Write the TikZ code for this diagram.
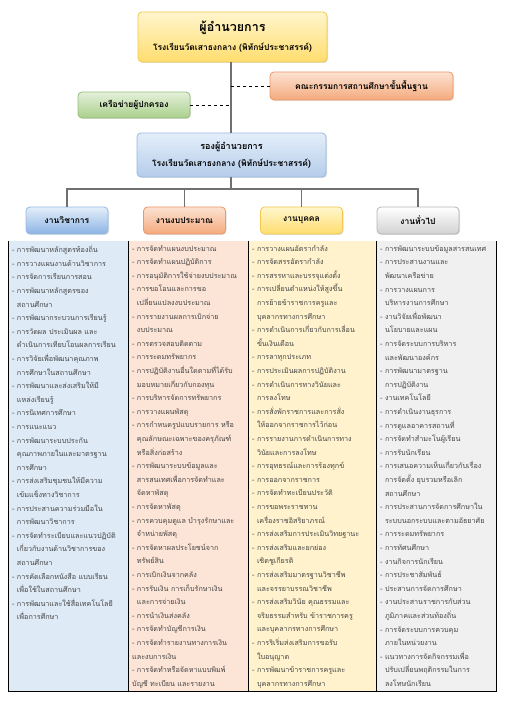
\documentclass[tikz,border=0pt]{standalone}
\usepackage{fontspec}
\newfontfamily\thaifont[Script=Thai]{Loma}
\usetikzlibrary{positioning,shadows}
\definecolor{lineg}{RGB}{112,112,112}
\definecolor{txtg}{RGB}{70,70,70}
\definecolor{yelT}{RGB}{255,246,205}
\definecolor{yelB}{RGB}{255,221,110}
\definecolor{yelD}{RGB}{242,200,80}
\definecolor{orT}{RGB}{252,226,210}
\definecolor{orB}{RGB}{244,170,125}
\definecolor{orD}{RGB}{236,150,105}
\definecolor{grT}{RGB}{228,240,218}
\definecolor{grB}{RGB}{170,208,140}
\definecolor{grD}{RGB}{150,190,120}
\definecolor{blT}{RGB}{228,238,250}
\definecolor{blB}{RGB}{180,205,234}
\definecolor{blD}{RGB}{150,185,225}
\definecolor{blhB}{RGB}{140,180,228}
\definecolor{gyT}{RGB}{255,255,255}
\definecolor{gyB}{RGB}{210,210,210}
\definecolor{gyD}{RGB}{180,180,180}
\definecolor{fillA}{RGB}{222,234,246}
\definecolor{fillB}{RGB}{252,228,214}
\definecolor{fillC}{RGB}{255,242,204}
\definecolor{fillD}{RGB}{240,240,240}

\newcommand{\ct}{\phantom{-\ }}

\begin{document}
\begin{tikzpicture}[x=1pt,y=-1pt,
  font=\thaifont,
  orgbox/.style={rounded corners=4pt,thick,align=center,inner sep=2pt,
    drop shadow={shadow xshift=1pt,shadow yshift=-1pt,opacity=0.25}},
  dirb/.style={orgbox,draw=yelD,top color=yelT,bottom color=yelB,minimum width=189pt,minimum height=50pt},
  depb/.style={orgbox,draw=blD,top color=blT,bottom color=blB,minimum width=189pt,minimum height=44pt},
  comb/.style={orgbox,draw=orD,top color=orT,bottom color=orB,minimum width=183pt,minimum height=28pt,font=\thaifont\bfseries\fontsize{8.5}{10}\selectfont},
  netb/.style={orgbox,draw=grD,top color=grT,bottom color=grB,minimum width=112pt,minimum height=26pt,font=\thaifont\bfseries\fontsize{8.5}{10}\selectfont},
  headb/.style={orgbox,minimum width=82pt,minimum height=27pt,font=\thaifont\bfseries\fontsize{8.5}{10}\selectfont},
  listt/.style={anchor=north west,align=left,text width=116pt,inner sep=0pt,text=txtg,
    font=\thaifont\fontsize{7.2}{13.6}\selectfont},
  link/.style={draw=lineg,line width=1.1pt},
  dashl/.style={draw=black,dashed,thin},
  tbl/.style={draw=black,line width=1pt},
  ]
  \useasboundingbox (0,0) rectangle (504,708);

  % management
  \node[dirb] (dir) at (232.5,37) {{\bfseries\fontsize{12.5}{14}\selectfont ผู้อำนวยการ}\\[7pt]
    {\bfseries\fontsize{8.5}{10}\selectfont โรงเรียนวัดเสาธงกลาง (พิทักษ์ประชาสรรค์)}};
  \node[comb] (com) at (361.5,86) {คณะกรรมการสถานศึกษาขั้นพื้นฐาน};
  \node[netb] (net) at (134,105) {เครือข่ายผู้ปกครอง};
  \node[depb] (dep) at (231.5,155) {{\bfseries\fontsize{9}{10}\selectfont รองผู้อำนวยการ}\\[5pt]
    {\bfseries\fontsize{8.5}{10}\selectfont โรงเรียนวัดเสาธงกลาง (พิทักษ์ประชาสรรค์)}};

  \coordinate (tcom) at (231,86);
  \coordinate (tnet) at (231,105);
  \coordinate (bus) at (231,189);
  \draw[link] (dir.south -| tcom) -- (dep.north -| tcom);
  \draw[dashl] (tcom) -- (com.west);
  \draw[dashl] (net.east) -- (tnet);

  % departments
  \node[headb,draw=blD,top color=blT,bottom color=blhB] (acad) at (67,220.5) {งานวิชาการ};
  \node[headb,draw=orD,top color=orT,bottom color=orB] (budg) at (184.5,220.5) {งานงบประมาณ};
  \node[headb,draw=yelD,top color=yelT,bottom color=yelB] (pers) at (301.5,220.5) {งานบุคคล};
  \node[headb,draw=gyD,top color=gyT,bottom color=gyB] (genl) at (418,220.5) {งานทั่วไป};

  \draw[link] (dep.south -| bus) -- (bus);
  \draw[link] (acad.north) |- (bus) -| (genl.north);
  \draw[link] (budg.north) -- (budg.north |- bus);
  \draw[link] (pers.north) -- (pers.north |- bus);

  % task lists
  \fill[fillA] (8,241) rectangle (128,691);
  \fill[fillB] (128,241) rectangle (248,691);
  \fill[fillC] (248,241) rectangle (376,691);
  \fill[fillD] (376,241) rectangle (496,691);

  \node[listt] (lacad) at (12,245) {- การพัฒนาหลักสูตรท้องถิ่น\\
- การวางแผนงานด้านวิชาการ\\
- การจัดการเรียนการสอน\\
- การพัฒนาหลักสูตรของ\\
\ct สถานศึกษา\\
- การพัฒนากระบวนการเรียนรู้\\
- การวัดผล ประเมินผล และ\\
\ct ดำเนินการเทียบโอนผลการเรียน\\
- การวิจัยเพื่อพัฒนาคุณภาพ\\
\ct การศึกษาในสถานศึกษา\\
- การพัฒนาและส่งเสริมให้มี\\
\ct แหล่งเรียนรู้\\
- การนิเทศการศึกษา\\
- การแนะแนว\\
- การพัฒนาระบบประกัน\\
\ct คุณภาพภายในและมาตรฐาน\\
\ct การศึกษา\\
- การส่งเสริมชุมชนให้มีความ\\
\ct เข้มแข็งทางวิชาการ\\
- การประสานความร่วมมือใน\\
\ct การพัฒนาวิชาการ\\
- การจัดทำระเบียบและแนวปฏิบัติ\\
\ct เกี่ยวกับงานด้านวิชาการของ\\
\ct สถานศึกษา\\
- การคัดเลือกหนังสือ แบบเรียน\\
\ct เพื่อใช้ในสถานศึกษา\\
- การพัฒนาและใช้สื่อเทคโนโลยี\\
\ct เพื่อการศึกษา};

  \node[listt] (lbudg) at (132,245) {- การจัดทำแผนงบประมาณ\\
- การจัดทำแผนปฏิบัติการ\\
- การอนุมัติการใช้จ่ายงบประมาณ\\
- การขอโอนและการขอ\\
\ct เปลี่ยนแปลงงบประมาณ\\
- การรายงานผลการเบิกจ่าย\\
\ct งบประมาณ\\
- การตรวจสอบติดตาม\\
- การระดมทรัพยากร\\
- การปฏิบัติงานอื่นใดตามที่ได้รับ\\
\ct มอบหมายเกี่ยวกับกองทุน\\
- การบริหารจัดการทรัพยากร\\
- การวางแผนพัสดุ\\
- การกำหนดรูปแบบรายการ หรือ\\
\ct คุณลักษณะเฉพาะของครุภัณฑ์\\
\ct หรือสิ่งก่อสร้าง\\
- การพัฒนาระบบข้อมูลและ\\
\ct สารสนเทศเพื่อการจัดทำและ\\
\ct จัดหาพัสดุ\\
- การจัดหาพัสดุ\\
- การควบคุมดูแล บำรุงรักษาและ\\
\ct จำหน่ายพัสดุ\\
- การจัดหาผลประโยชน์จาก\\
\ct ทรัพย์สิน\\
- การเบิกเงินจากคลัง\\
- การรับเงิน การเก็บรักษาเงิน\\
\ct และการจ่ายเงิน\\
- การนำเงินส่งคลัง\\
- การจัดทำบัญชีการเงิน\\
- การจัดทำรายงานทางการเงิน\\
และงบการเงิน\\
- การจัดทำหรือจัดหาแบบพิมพ์\\
บัญชี ทะเบียน และรายงาน};

  \node[listt] (lpers) at (252,245) {- การวางแผนอัตรากำลัง\\
- การจัดสรรอัตรากำลัง\\
- การสรรหาและบรรจุแต่งตั้ง\\
- การเปลี่ยนตำแหน่งให้สูงขึ้น\\
\ct การย้ายข้าราชการครูและ\\
\ct บุคลากรทางการศึกษา\\
- การดำเนินการเกี่ยวกับการเลื่อน\\
\ct ขั้นเงินเดือน\\
- การลาทุกประเภท\\
- การประเมินผลการปฏิบัติงาน\\
- การดำเนินการทางวินัยและ\\
\ct การลงโทษ\\
- การสั่งพักราชการและการสั่ง\\
\ct ให้ออกจากราชการไว้ก่อน\\
- การรายงานการดำเนินการทาง\\
\ct วินัยและการลงโทษ\\
- การอุทธรณ์และการร้องทุกข์\\
- การออกจากราชการ\\
- การจัดทำทะเบียนประวัติ\\
- การขอพระราชทาน\\
\ct เครื่องราชอิสริยาภรณ์\\
- การส่งเสริมการประเมินวิทยฐานะ\\
- การส่งเสริมและยกย่อง\\
\ct เชิดชูเกียรติ\\
- การส่งเสริมมาตรฐานวิชาชีพ\\
\ct และจรรยาบรรณวิชาชีพ\\
- การส่งเสริมวินัย คุณธรรมและ\\
\ct จริยธรรมสำหรับ ข้าราชการครู\\
\ct และบุคลากรทางการศึกษา\\
- การริเริ่มส่งเสริมการขอรับ\\
\ct ใบอนุญาต\\
- การพัฒนาข้าราชการครูและ\\
\ct บุคลากรทางการศึกษา};

  \node[listt] (lgenl) at (380,245) {- การพัฒนาระบบข้อมูลสารสนเทศ\\
- การประสานงานและ\\
\ct พัฒนาเครือข่าย\\
- การวางแผนการ\\
\ct บริหารงานการศึกษา\\
- งานวิจัยเพื่อพัฒนา\\
\ct นโยบายและแผน\\
- การจัดระบบการบริหาร\\
\ct และพัฒนาองค์กร\\
- การพัฒนามาตรฐาน\\
\ct การปฏิบัติงาน\\
- งานเทคโนโลยี\\
- การดำเนินงานธุรการ\\
- การดูแลอาคารสถานที่\\
- การจัดทำสำมะโนผู้เรียน\\
- การรับนักเรียน\\
- การเสนอความเห็นเกี่ยวกับเรื่อง\\
\ct การจัดตั้ง ยุบรวมหรือเลิก\\
\ct สถานศึกษา\\
- การประสานการจัดการศึกษาใน\\
\ct ระบบนอกระบบและตามอัธยาศัย\\
- การระดมทรัพยากร\\
- การทัศนศึกษา\\
- งานกิจการนักเรียน\\
- การประชาสัมพันธ์\\
- ประสานการจัดการศึกษา\\
- งานประสานราชการกับส่วน\\
\ct ภูมิภาคและส่วนท้องถิ่น\\
- การจัดระบบการควบคุม\\
\ct ภายในหน่วยงาน\\
- แนวทางการจัดกิจกรรมเพื่อ\\
\ct ปรับเปลี่ยนพฤติกรรมในการ\\
\ct ลงโทษนักเรียน};

  \draw[tbl] (8,241) -- (8,691) -- (496,691) -- (496,241);
  \foreach \xd in {128,248,376} \draw[tbl] (\xd,241) -- (\xd,691);
\end{tikzpicture}
\end{document}
